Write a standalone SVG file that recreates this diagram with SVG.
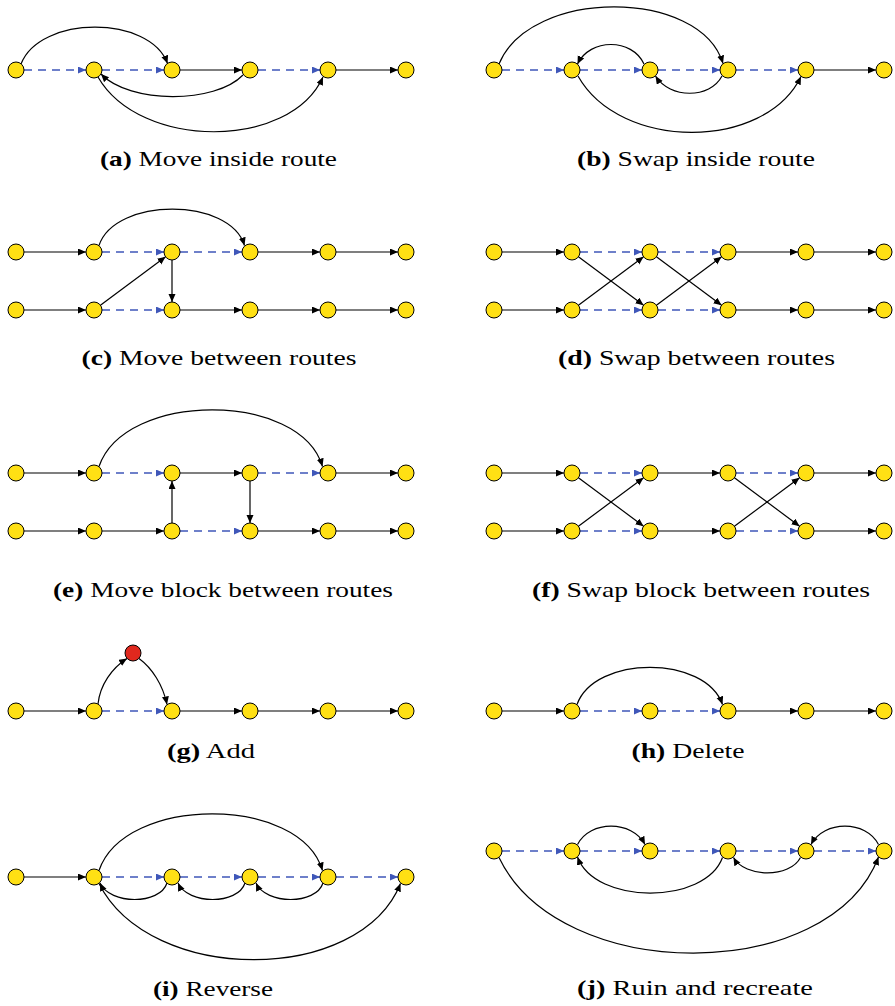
<svg xmlns="http://www.w3.org/2000/svg" width="895" height="1006" viewBox="0 0 895 1006">
<style>
.n{fill:#FFE014;stroke:#000;stroke-width:1}
.r{fill:#E0281E;stroke:#000;stroke-width:1}
.k{fill:none;stroke:#000;stroke-width:1.2;marker-end:url(#ak)}
.b{fill:none;stroke:#3F57B9;stroke-width:1.3;stroke-dasharray:8 6;marker-end:url(#ab)}
.cap{font-family:"Liberation Serif","Times New Roman",serif;font-size:22px;fill:#000;text-anchor:middle}
.cap tspan.l{font-weight:bold}
</style>
<defs>
<marker id="ak" markerWidth="9" markerHeight="8" refX="8" refY="3.5" orient="auto" markerUnits="userSpaceOnUse"><path d="M0,0 L8,3.5 L0,7 z" fill="#000"/></marker>
<marker id="ab" markerWidth="9" markerHeight="8" refX="8" refY="3.5" orient="auto" markerUnits="userSpaceOnUse"><path d="M0,0 L8,3.5 L0,7 z" fill="#3F57B9"/></marker>
</defs>
<rect width="895" height="1006" fill="#fff"/>
<g id="connectors">
<!-- (a) -->
<path class="b" d="M24,70 H86"/><path class="b" d="M102,70 H164"/><path class="k" d="M180,70 H242"/><path class="b" d="M258,70 H320"/><path class="k" d="M336,70 H398"/>
<path class="k" d="M21,64 C40,15 150,15 167.5,63.5"/>
<path class="k" d="M243,75 C215,104 130,104 101,74"/>
<path class="k" d="M98,77 C140,150 290,150 323,77"/>
<!-- (b) -->
<path class="b" d="M502,70 H564"/><path class="b" d="M580,70 H642"/><path class="b" d="M658,70 H720"/><path class="b" d="M736,70 H798"/><path class="k" d="M814,70 H876"/>
<path class="k" d="M499,64 C530,-12 700,-12 723,63.5"/>
<path class="k" d="M644,64 C632,38 590,38 577.5,64"/>
<path class="k" d="M722,76 C710,99 670,99 655.5,76"/>
<path class="k" d="M578,76 C620,151 765,151 801,76.5"/>
<!-- (c) -->
<path class="k" d="M24,252 H86"/><path class="b" d="M102,252 H164"/><path class="b" d="M180,252 H242"/><path class="k" d="M258,252 H320"/><path class="k" d="M336,252 H398"/>
<path class="k" d="M24,310 H86"/><path class="b" d="M102,310 H164"/><path class="k" d="M180,310 H242"/><path class="k" d="M258,310 H320"/><path class="k" d="M336,310 H398"/>
<path class="k" d="M99,245.5 C115,197 230,197 244.5,245.5"/>
<path class="k" d="M100.4,305.2 L165.6,256.8"/>
<path class="k" d="M172,260 L172,302"/>
<!-- (d) -->
<path class="k" d="M502,252 H564"/><path class="b" d="M580,252 H642"/><path class="b" d="M658,252 H720"/><path class="k" d="M736,252 H798"/><path class="k" d="M814,252 H876"/>
<path class="k" d="M502,310 H564"/><path class="b" d="M580,310 H642"/><path class="b" d="M658,310 H720"/><path class="k" d="M736,310 H798"/><path class="k" d="M814,310 H876"/>
<path class="k" d="M578.4,256.8 L643.6,305.2"/><path class="k" d="M578.4,305.2 L643.6,256.8"/>
<path class="k" d="M656.4,256.8 L721.6,305.2"/><path class="k" d="M656.4,305.2 L721.6,256.8"/>
<!-- (e) -->
<path class="k" d="M24,473 H86"/><path class="b" d="M102,473 H164"/><path class="k" d="M180,473 H242"/><path class="b" d="M258,473 H320"/><path class="k" d="M336,473 H398"/>
<path class="k" d="M24,531 H86"/><path class="k" d="M102,531 H164"/><path class="b" d="M180,531 H242"/><path class="k" d="M258,531 H320"/><path class="k" d="M336,531 H398"/>
<path class="k" d="M99,466.5 C125,391 300,391 322.5,466.5"/>
<path class="k" d="M172,523 L172,481"/><path class="k" d="M250,481 L250,523"/>
<!-- (f) -->
<path class="k" d="M502,473 H564"/><path class="b" d="M580,473 H642"/><path class="k" d="M658,473 H720"/><path class="b" d="M736,473 H798"/><path class="k" d="M814,473 H876"/>
<path class="k" d="M502,531 H564"/><path class="b" d="M580,531 H642"/><path class="k" d="M658,531 H720"/><path class="b" d="M736,531 H798"/><path class="k" d="M814,531 H876"/>
<path class="k" d="M578.4,477.8 L643.6,526.2"/><path class="k" d="M578.4,526.2 L643.6,477.8"/>
<path class="k" d="M734.4,477.8 L799.6,526.2"/><path class="k" d="M734.4,526.2 L799.6,477.8"/>
<!-- (g) -->
<path class="k" d="M24,711 H86"/><path class="b" d="M102,711 H164"/><path class="k" d="M180,711 H242"/><path class="k" d="M258,711 H320"/><path class="k" d="M336,711 H398"/>
<path class="k" d="M98,704 C100,685 112,668 127,658.5"/>
<path class="k" d="M139,658.5 C152,668 163,685 167,704.5"/>
<!-- (h) -->
<path class="k" d="M502,711 H564"/><path class="b" d="M580,711 H642"/><path class="b" d="M658,711 H720"/><path class="k" d="M736,711 H798"/><path class="k" d="M814,711 H876"/>
<path class="k" d="M577,704.5 C595,655 705,655 722.5,704.5"/>
<!-- (i) -->
<path class="k" d="M24,877 H86"/><path class="b" d="M102,877 H164"/><path class="b" d="M180,877 H242"/><path class="b" d="M258,877 H320"/><path class="b" d="M336,877 H398"/>
<path class="k" d="M99,870.5 C125,795 300,795 322.5,870.5"/>
<path class="k" d="M167,883 C160,905 110,905 100,883"/>
<path class="k" d="M245,883 C238,905 188,905 178,883"/>
<path class="k" d="M323,883 C316,905 266,905 256,883"/>
<path class="k" d="M99,883.5 C150,985 360,985 400.5,883.5"/>
<!-- (j) -->
<path class="b" d="M502,851 H564"/><path class="b" d="M580,851 H642"/><path class="b" d="M658,851 H720"/><path class="b" d="M736,851 H798"/><path class="b" d="M814,851 H876"/>
<path class="k" d="M577.5,844.5 C590,820 632,820 645,844.5"/>
<path class="k" d="M878.5,844.5 C866,820 824,820 811,844.5"/>
<path class="k" d="M722.5,857.5 C705,905 595,905 577.5,857"/>
<path class="k" d="M800.5,857.5 C790,878 745,878 733.5,857.5"/>
<path class="k" d="M499,857.5 C560,985 830,985 878.5,857"/>
</g>
<!-- nodes (a) -->
<g id="a1"><circle class="n" cx="16" cy="70" r="8"/></g>
<g id="a2"><circle class="n" cx="94" cy="70" r="8"/></g>
<g id="a3"><circle class="n" cx="172" cy="70" r="8"/></g>
<g id="a4"><circle class="n" cx="250" cy="70" r="8"/></g>
<g id="a5"><circle class="n" cx="328" cy="70" r="8"/></g>
<g id="a6"><circle class="n" cx="406" cy="70" r="8"/></g>
<!-- (b) -->
<g id="b1"><circle class="n" cx="494" cy="70" r="8"/></g>
<g id="b2"><circle class="n" cx="572" cy="70" r="8"/></g>
<g id="b3"><circle class="n" cx="650" cy="70" r="8"/></g>
<g id="b4"><circle class="n" cx="728" cy="70" r="8"/></g>
<g id="b5"><circle class="n" cx="806" cy="70" r="8"/></g>
<g id="b6"><circle class="n" cx="884" cy="70" r="8"/></g>
<!-- (c) -->
<g id="c1"><circle class="n" cx="16" cy="252" r="8"/></g>
<g id="c2"><circle class="n" cx="94" cy="252" r="8"/></g>
<g id="c3"><circle class="n" cx="172" cy="252" r="8"/></g>
<g id="c4"><circle class="n" cx="250" cy="252" r="8"/></g>
<g id="c5"><circle class="n" cx="328" cy="252" r="8"/></g>
<g id="c6"><circle class="n" cx="406" cy="252" r="8"/></g>
<g id="c7"><circle class="n" cx="16" cy="310" r="8"/></g>
<g id="c8"><circle class="n" cx="94" cy="310" r="8"/></g>
<g id="c9"><circle class="n" cx="172" cy="310" r="8"/></g>
<g id="c10"><circle class="n" cx="250" cy="310" r="8"/></g>
<g id="c11"><circle class="n" cx="328" cy="310" r="8"/></g>
<g id="c12"><circle class="n" cx="406" cy="310" r="8"/></g>
<!-- (d) -->
<g id="d1"><circle class="n" cx="494" cy="252" r="8"/></g>
<g id="d2"><circle class="n" cx="572" cy="252" r="8"/></g>
<g id="d3"><circle class="n" cx="650" cy="252" r="8"/></g>
<g id="d4"><circle class="n" cx="728" cy="252" r="8"/></g>
<g id="d5"><circle class="n" cx="806" cy="252" r="8"/></g>
<g id="d6"><circle class="n" cx="884" cy="252" r="8"/></g>
<g id="d7"><circle class="n" cx="494" cy="310" r="8"/></g>
<g id="d8"><circle class="n" cx="572" cy="310" r="8"/></g>
<g id="d9"><circle class="n" cx="650" cy="310" r="8"/></g>
<g id="d10"><circle class="n" cx="728" cy="310" r="8"/></g>
<g id="d11"><circle class="n" cx="806" cy="310" r="8"/></g>
<g id="d12"><circle class="n" cx="884" cy="310" r="8"/></g>
<!-- (e) -->
<g id="e1"><circle class="n" cx="16" cy="473" r="8"/></g>
<g id="e2"><circle class="n" cx="94" cy="473" r="8"/></g>
<g id="e3"><circle class="n" cx="172" cy="473" r="8"/></g>
<g id="e4"><circle class="n" cx="250" cy="473" r="8"/></g>
<g id="e5"><circle class="n" cx="328" cy="473" r="8"/></g>
<g id="e6"><circle class="n" cx="406" cy="473" r="8"/></g>
<g id="e7"><circle class="n" cx="16" cy="531" r="8"/></g>
<g id="e8"><circle class="n" cx="94" cy="531" r="8"/></g>
<g id="e9"><circle class="n" cx="172" cy="531" r="8"/></g>
<g id="e10"><circle class="n" cx="250" cy="531" r="8"/></g>
<g id="e11"><circle class="n" cx="328" cy="531" r="8"/></g>
<g id="e12"><circle class="n" cx="406" cy="531" r="8"/></g>
<!-- (f) -->
<g id="f1"><circle class="n" cx="494" cy="473" r="8"/></g>
<g id="f2"><circle class="n" cx="572" cy="473" r="8"/></g>
<g id="f3"><circle class="n" cx="650" cy="473" r="8"/></g>
<g id="f4"><circle class="n" cx="728" cy="473" r="8"/></g>
<g id="f5"><circle class="n" cx="806" cy="473" r="8"/></g>
<g id="f6"><circle class="n" cx="884" cy="473" r="8"/></g>
<g id="f7"><circle class="n" cx="494" cy="531" r="8"/></g>
<g id="f8"><circle class="n" cx="572" cy="531" r="8"/></g>
<g id="f9"><circle class="n" cx="650" cy="531" r="8"/></g>
<g id="f10"><circle class="n" cx="728" cy="531" r="8"/></g>
<g id="f11"><circle class="n" cx="806" cy="531" r="8"/></g>
<g id="f12"><circle class="n" cx="884" cy="531" r="8"/></g>
<!-- (g) -->
<g id="g1"><circle class="n" cx="16" cy="711" r="8"/></g>
<g id="g2"><circle class="n" cx="94" cy="711" r="8"/></g>
<g id="g3"><circle class="n" cx="172" cy="711" r="8"/></g>
<g id="g4"><circle class="n" cx="250" cy="711" r="8"/></g>
<g id="g5"><circle class="n" cx="328" cy="711" r="8"/></g>
<g id="g6"><circle class="n" cx="406" cy="711" r="8"/></g>
<g id="g7"><circle class="r" cx="133" cy="653" r="8"/></g>
<!-- (h) -->
<g id="h1"><circle class="n" cx="494" cy="711" r="8"/></g>
<g id="h2"><circle class="n" cx="572" cy="711" r="8"/></g>
<g id="h3"><circle class="n" cx="650" cy="711" r="8"/></g>
<g id="h4"><circle class="n" cx="728" cy="711" r="8"/></g>
<g id="h5"><circle class="n" cx="806" cy="711" r="8"/></g>
<g id="h6"><circle class="n" cx="884" cy="711" r="8"/></g>
<!-- (i) -->
<g id="i1"><circle class="n" cx="16" cy="877" r="8"/></g>
<g id="i2"><circle class="n" cx="94" cy="877" r="8"/></g>
<g id="i3"><circle class="n" cx="172" cy="877" r="8"/></g>
<g id="i4"><circle class="n" cx="250" cy="877" r="8"/></g>
<g id="i5"><circle class="n" cx="328" cy="877" r="8"/></g>
<g id="i6"><circle class="n" cx="406" cy="877" r="8"/></g>
<!-- (j) -->
<g id="j1"><circle class="n" cx="494" cy="851" r="8"/></g>
<g id="j2"><circle class="n" cx="572" cy="851" r="8"/></g>
<g id="j3"><circle class="n" cx="650" cy="851" r="8"/></g>
<g id="j4"><circle class="n" cx="728" cy="851" r="8"/></g>
<g id="j5"><circle class="n" cx="806" cy="851" r="8"/></g>
<g id="j6"><circle class="n" cx="884" cy="851" r="8"/></g>
<!-- captions -->
<g id="captions">
<text class="cap" x="218.5" y="166" textLength="237" lengthAdjust="spacingAndGlyphs"><tspan class="l">(a)</tspan> Move inside route</text>
<text class="cap" x="696" y="166" textLength="238" lengthAdjust="spacingAndGlyphs"><tspan class="l">(b)</tspan> Swap inside route</text>
<text class="cap" x="219" y="365" textLength="275" lengthAdjust="spacingAndGlyphs"><tspan class="l">(c)</tspan> Move between routes</text>
<text class="cap" x="696.5" y="365" textLength="277" lengthAdjust="spacingAndGlyphs"><tspan class="l">(d)</tspan> Swap between routes</text>
<text class="cap" x="223" y="597" textLength="340" lengthAdjust="spacingAndGlyphs"><tspan class="l">(e)</tspan> Move block between routes</text>
<text class="cap" x="701" y="597" textLength="338" lengthAdjust="spacingAndGlyphs"><tspan class="l">(f)</tspan> Swap block between routes</text>
<text class="cap" x="211" y="758" textLength="88" lengthAdjust="spacingAndGlyphs"><tspan class="l">(g)</tspan> Add</text>
<text class="cap" x="688" y="758" textLength="113" lengthAdjust="spacingAndGlyphs"><tspan class="l">(h)</tspan> Delete</text>
<text class="cap" x="213" y="996" textLength="120" lengthAdjust="spacingAndGlyphs"><tspan class="l">(i)</tspan> Reverse</text>
<text class="cap" x="695" y="995" textLength="236" lengthAdjust="spacingAndGlyphs"><tspan class="l">(j)</tspan> Ruin and recreate</text>
</g>
</svg>
